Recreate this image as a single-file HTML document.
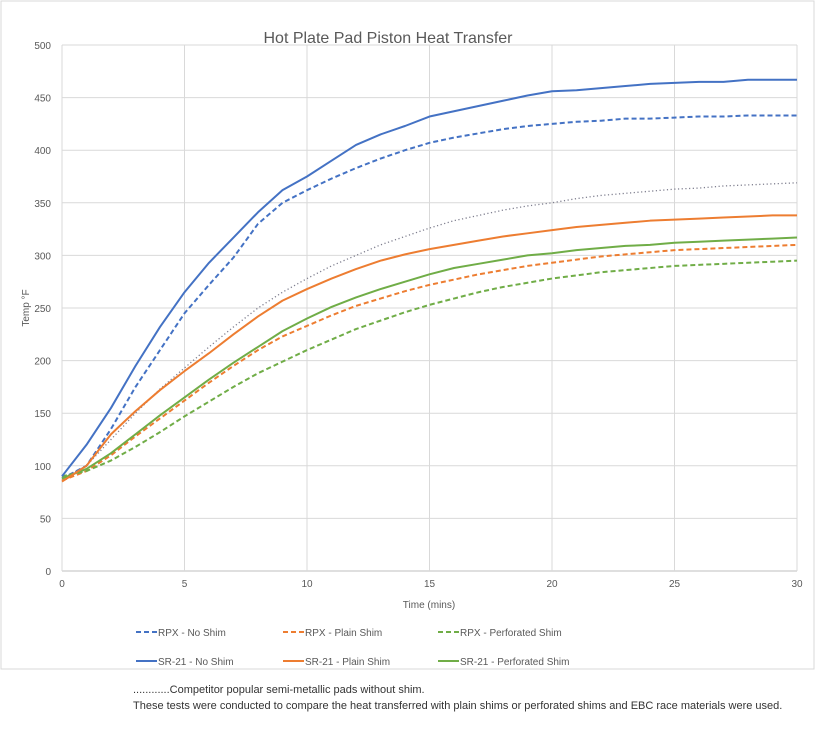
<!DOCTYPE html>
<html><head><meta charset="utf-8"><style>
body{margin:0;background:#fff;font-family:"Liberation Sans",sans-serif}
svg text{font-family:"Liberation Sans",sans-serif}
</style></head><body>
<svg id="c" width="819" height="729" xmlns="http://www.w3.org/2000/svg">
<rect x="1" y="1" width="813" height="668" fill="#fff" stroke="#d9d9d9"/>
<text x="388" y="43" text-anchor="middle" font-size="16" fill="#595959">Hot Plate Pad Piston Heat Transfer</text>
<g id="grid"></g><g id="series"></g>
<text x="429" y="608" text-anchor="middle" font-size="10" fill="#595959">Time (mins)</text>
<text transform="translate(29,308) rotate(-90)" text-anchor="middle" font-size="10" fill="#595959">Temp °F</text>
<g id="legend"></g>
<text x="133" y="693" font-size="11" fill="#333">............Competitor popular semi-metallic pads without shim.</text>
<text x="133" y="709" font-size="11" fill="#333">These tests were conducted to  compare the heat transferred with plain shims or perforated shims and EBC race materials were used.</text>
</svg>
<script>
const minutes=[0,1,2,3,4,5,6,7,8,9,10,11,12,13,14,15,16,17,18,19,20,21,22,23,24,25,26,27,28,29,30];
const xTicks=[0,5,10,15,20,25,30];
const yTicks=[0,50,100,150,200,250,300,350,400,450,500];
const sr21NoShim=[90,120,155,195,232,265,293,317,341,362,375,390,405,415,423,432,437,442,447,452,456,457,459,461,463,464,465,465,467,467,467];
const rpxNoShim=[88,100,135,175,210,245,272,298,330,350,362,373,383,392,400,407,412,416,420,423,425,427,428,430,430,431,432,432,433,433,433];
const competitor=[88,100,125,150,173,193,213,232,250,265,278,290,300,310,318,326,333,338,343,347,350,354,357,359,361,363,364,366,367,368,369];
const sr21Plain=[85,100,130,152,172,190,207,225,242,257,268,278,287,295,301,306,310,314,318,321,324,327,329,331,333,334,335,336,337,338,338];
const sr21Perf=[88,97,112,130,148,165,182,198,213,228,240,251,260,268,275,282,288,292,296,300,302,305,307,309,310,312,313,314,315,316,317];
const rpxPlain=[86,95,110,128,145,162,179,195,210,223,233,243,252,259,266,272,277,282,286,290,293,296,299,301,303,305,306,307,308,309,310];
const rpxPerf=[90,95,105,118,132,147,161,175,188,199,210,220,230,238,246,253,259,265,270,274,278,281,284,286,288,290,291,292,293,294,295];
const NS='http://www.w3.org/2000/svg';
const X=v=>62+v*(735/30), Y=v=>571-v*(526/500);
function mk(t,a,p){const e=document.createElementNS(NS,t);for(const k in a)e.setAttribute(k,a[k]);p.appendChild(e);return e;}
const g=document.getElementById('grid');
yTicks.forEach(v=>{
 const l=mk('line',{x1:62,x2:797,y1:Y(v),y2:Y(v),stroke:v===0?'#bfbfbf':'#d9d9d9'},g);
 
 
 const t=mk('text',{x:51,y:Y(v)+4,'text-anchor':'end','font-size':10,fill:'#595959'},g);t.textContent=v;
 
 
});
xTicks.forEach(v=>{
 const l=mk('line',{x1:X(v),x2:X(v),y1:Y(0),y2:Y(500),stroke:'#d9d9d9'},g);
 
 
 const t=mk('text',{x:X(v),y:587,'text-anchor':'middle','font-size':10,fill:'#595959'},g);t.textContent=v;
 
 
});
const S=[
 {d:rpxNoShim,c:'#4472C4',da:'5,3',n:'rpx-no-shim-line'},
 {d:rpxPlain,c:'#ED7D31',da:'5,3',n:'rpx-plain-shim-line'},
 {d:rpxPerf,c:'#70AD47',da:'5,3',n:'rpx-perforated-shim-line'},
 {d:competitor,c:'#7f7f8f',da:'1.2,2.5',n:'competitor-line',w:1.3},
 {d:sr21Perf,c:'#70AD47',da:'',n:'sr21-perforated-shim-line'},
 {d:sr21Plain,c:'#ED7D31',da:'',n:'sr21-plain-shim-line'},
 {d:sr21NoShim,c:'#4472C4',da:'',n:'sr21-no-shim-line'}];
const sg=document.getElementById('series');
S.forEach(s=>{
 const p=mk('polyline',{points:s.d.map((v,i)=>X(minutes[i])+','+Y(v)).join(' '),fill:'none',stroke:s.c,'stroke-width':s.w||2,'stroke-dasharray':s.da,'stroke-linejoin':'round'},sg);
 
 
});
const L=[['RPX - No Shim','#4472C4','5,3',136,633],['RPX - Plain Shim','#ED7D31','5,3',283,633],['RPX - Perforated Shim','#70AD47','5,3',438,633],
['SR-21 - No Shim','#4472C4','',136,662],['SR-21 - Plain Shim','#ED7D31','',283,662],['SR-21 - Perforated Shim','#70AD47','',438,662]];
const lg=document.getElementById('legend');
L.forEach(e=>{
 const l=mk('line',{x1:e[3],x2:e[3]+21,y1:e[4]-1,y2:e[4]-1,stroke:e[1],'stroke-width':2,'stroke-dasharray':e[2]},lg);
 
 
 const t=mk('text',{x:e[3]+22,y:e[4]+3,'font-size':10,fill:'#595959'},lg);t.textContent=e[0];
 
 
});
</script>
</body></html>
